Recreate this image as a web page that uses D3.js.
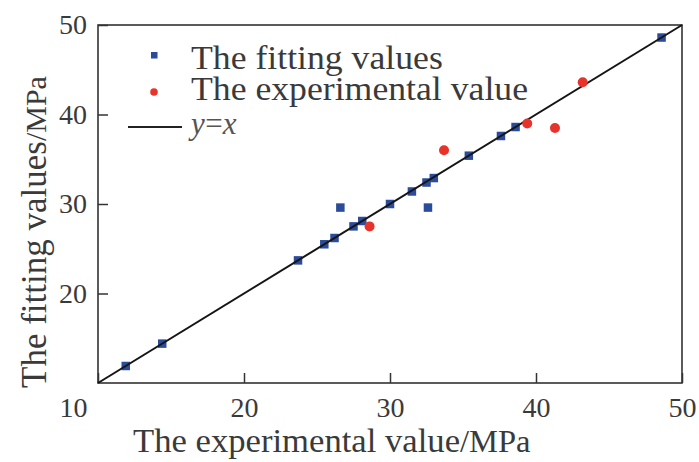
<!DOCTYPE html>
<html>
<head>
<meta charset="utf-8">
<script src="https://cdn.jsdelivr.net/npm/d3@7"></script>
<style>
  html, body { margin: 0; padding: 0; background: #fff; }
  svg { display: block; font-family: "Liberation Serif", "Times New Roman", serif; }
</style>
</head>
<body>
<svg id="chart" width="699" height="462"></svg>
<script>
// ---- data ----
const fitExp = [11.9, 14.4, 23.7, 25.5, 26.2, 27.5, 28.1, 30.0, 31.5, 32.5, 33.0, 35.4, 37.6, 38.6, 48.6, 26.6, 32.6];
const fitVal = [11.9, 14.4, 23.7, 25.5, 26.2, 27.5, 28.1, 30.0, 31.4, 32.4, 32.9, 35.4, 37.6, 38.6, 48.6, 29.6, 29.6];
const expX   = [28.6, 33.7, 39.4, 41.3, 43.2];
const expY   = [27.5, 36.0, 39.0, 38.5, 43.6];
const xTicks = [10, 20, 30, 40, 50];
const yTicks = [20, 30, 40, 50];
const lineDomain = [10, 50];
const legendLabels = ["The fitting values", "The experimental value", "y=x"];

// ---- layout ----
const svg = d3.select("#chart");
const pLeft = 98, pRight = 682, pTop = 25, pBottom = 383;
const x = d3.scaleLinear().domain([10, 50]).range([pLeft, pRight]);
const y = d3.scaleLinear().domain([10, 50]).range([pBottom, pTop]);
const textCol = "#3a3a3a";
const axisCol = "#333";
const blue = "#2b4c9b";
const red = "#e8332b";
const serif = "Liberation Serif, Times New Roman, serif";
const sx = 1.05;

// frame
svg.append("rect")
  .attr("x", pLeft).attr("y", pTop)
  .attr("width", pRight - pLeft).attr("height", pBottom - pTop)
  .attr("fill", "none").attr("stroke", axisCol).attr("stroke-width", 1.6);

// x axis
const gx = svg.append("g").attr("transform", `translate(0,${pBottom})`)
  .call(d3.axisBottom(x).tickValues(xTicks).tickSizeInner(-10).tickSizeOuter(0).tickPadding(14));
gx.select(".domain").remove();
gx.selectAll("line").attr("stroke", axisCol).attr("stroke-width", 1.5);
gx.selectAll("text").attr("font-size", 28).attr("fill", textCol).attr("font-family", serif);
gx.selectAll(".tick").filter(d => d === 10).select("text").attr("x", -25);

// y axis
const gy = svg.append("g").attr("transform", `translate(${pLeft},0)`)
  .call(d3.axisLeft(y).tickValues(yTicks).tickSizeInner(-10).tickSizeOuter(0).tickPadding(11));
gy.select(".domain").remove();
gy.selectAll("line").attr("stroke", axisCol).attr("stroke-width", 1.5);
gy.selectAll("text").attr("font-size", 28).attr("fill", textCol).attr("font-family", serif);

// fitted squares
const sq = 8.5;
svg.append("g").selectAll("rect").data(fitExp.map((d, i) => [d, fitVal[i]])).join("rect")
  .attr("x", d => x(d[0]) - sq / 2).attr("y", d => y(d[1]) - sq / 2)
  .attr("width", sq).attr("height", sq).attr("fill", blue);

// y = x line
svg.append("line")
  .attr("x1", x(lineDomain[0])).attr("y1", y(lineDomain[0]))
  .attr("x2", x(lineDomain[1])).attr("y2", y(lineDomain[1]))
  .attr("stroke", "#151515").attr("stroke-width", 2);

// experimental circles
svg.append("g").selectAll("circle").data(expX.map((d, i) => [d, expY[i]])).join("circle")
  .attr("cx", d => x(d[0])).attr("cy", d => y(d[1])).attr("r", 5).attr("fill", red);

// legend
svg.append("rect").attr("x", 151).attr("y", 52).attr("width", 6.5).attr("height", 6.5).attr("fill", blue);
svg.append("circle").attr("cx", 154).attr("cy", 92).attr("r", 3.8).attr("fill", red);
svg.append("line").attr("x1", 128).attr("x2", 182).attr("y1", 127).attr("y2", 127)
  .attr("stroke", "#222").attr("stroke-width", 1.8);

svg.append("text").attr("transform", `translate(191,69) scale(${sx},1)`)
  .attr("font-size", 34).attr("fill", textCol).text(legendLabels[0]);
svg.append("text").attr("transform", `translate(191,100) scale(${sx},1)`)
  .attr("font-size", 34).attr("fill", textCol).text(legendLabels[1]);
svg.append("text").attr("x", 191).attr("y", 134)
  .attr("font-size", 31).attr("font-style", "italic").attr("letter-spacing", -1.5)
  .attr("fill", "#555").text(legendLabels[2]);

// axis titles
const xt = svg.append("text").attr("transform", `translate(133,452) scale(${sx},1)`)
  .attr("font-size", 33).attr("fill", textCol);
xt.append("tspan").text("The experimental value");
xt.append("tspan").attr("font-size", 31).text("/MPa");

const yt = svg.append("text").attr("transform", "translate(46,388) rotate(-90)")
  .attr("font-size", 35).attr("fill", textCol);
yt.append("tspan").text("The fitting values");
yt.append("tspan").attr("font-size", 30).text("/MPa");
</script>
</body>
</html>
